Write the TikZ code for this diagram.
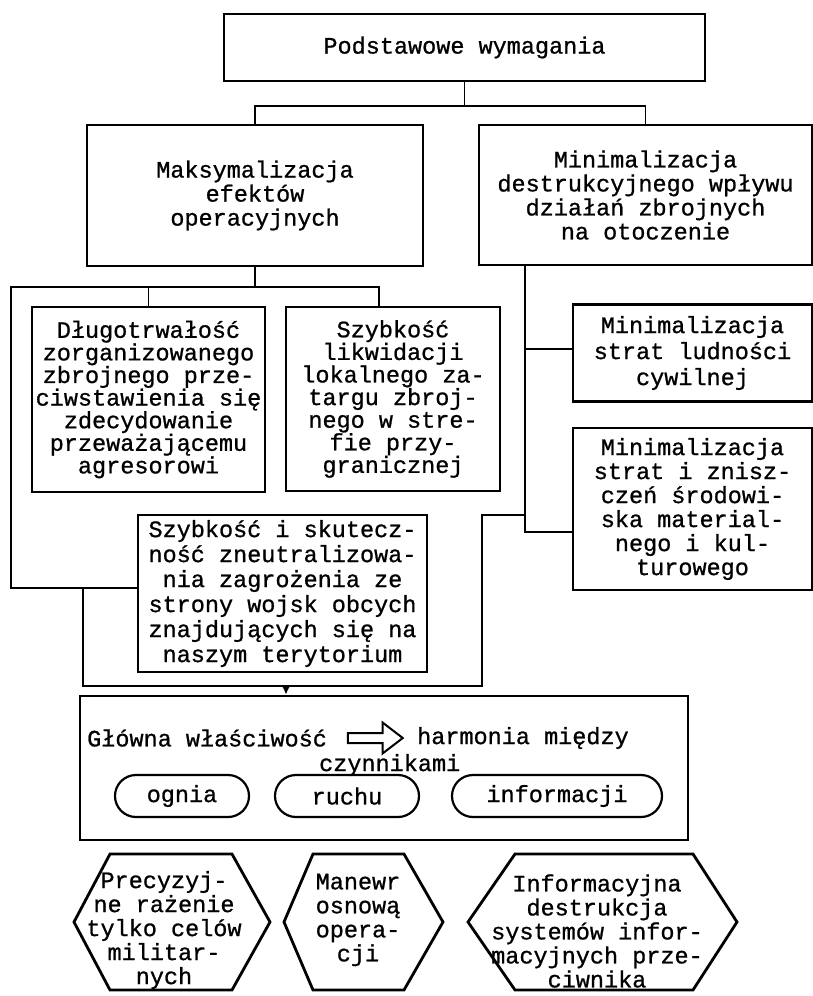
\documentclass[tikz,border=0pt]{standalone}
\usepackage{fontspec}
\setmainfont{Liberation Mono}[BoldFont=Liberation Mono, BoldFeatures={FakeBold=0.9}]
\usetikzlibrary{arrows.meta, shapes.misc, shapes.arrows}

\begin{document}
\begin{tikzpicture}[x=1pt, y=-1pt, font=\fontsize{23.5}{24}\selectfont\bfseries,
    box/.style={draw, line width=2.8pt, align=center, inner sep=0pt},
    pill/.style={draw, rounded rectangle, line width=2.2pt, inner sep=0pt},
    link/.style={line width=1.8pt},
    hexline/.style={line width=2.8pt, line join=miter}]
  \useasboundingbox (0,0) rectangle (813,996);
  \node[box, minimum width=481, minimum height=67] (pw) at (464.5,47.5) {Podstawowe wymagania};
  \node[box, minimum width=336, minimum height=141] (maks) at (255,195.5) {Maksymalizacja\\efektów\\operacyjnych};
  \node[box, minimum width=333, minimum height=140] (mini) at (645.5,195) {Minimalizacja\\destrukcyjnego wpływu\\działań zbrojnych\\na otoczenie};
  \node[box, minimum width=233, minimum height=185, font=\fontsize{23.5}{22.6}\selectfont\bfseries] (dlugo) at (148.5,399.5) {Długotrwałość\\zorganizowanego\\zbrojnego prze-\\ciwstawienia się\\zdecydowanie\\przeważającemu\\agresorowi};
  \node[box, minimum width=214, minimum height=184, font=\fontsize{23.5}{22.6}\selectfont\bfseries] (likw) at (393,399) {Szybkość\\likwidacji\\lokalnego za-\\targu zbroj-\\nego w stre-\\fie przy-\\granicznej};
  \node[box, minimum width=289, minimum height=157, font=\fontsize{23.5}{25}\selectfont\bfseries] (skut) at (282.5,593.5) {Szybkość i skutecz-\\ność zneutralizowa-\\nia zagrożenia ze\\strony wojsk obcych\\znajdujących się na\\naszym terytorium};
  \node[box, minimum width=239, minimum height=97, font=\fontsize{23.5}{26}\selectfont\bfseries] (ludn) at (692.5,353) {Minimalizacja\\strat ludności\\cywilnej};
  \node[box, minimum width=239, minimum height=162] (znisz) at (692.5,509) {Minimalizacja\\strat i znisz-\\czeń środowi-\\ska material-\\nego i kul-\\turowego};
  \node[box, minimum width=608, minimum height=144] (glowna) at (384,768) {};
  \node[anchor=west, inner sep=0pt] (wl) at (87,738) {Główna właściwość};
  \node[draw, single arrow, line width=2pt, inner xsep=0pt, inner ysep=4pt, minimum height=55,
    single arrow head extend=10.5pt, single arrow tip angle=75] (impl) at (372,738) {};
  \node[anchor=west, inner sep=0pt] (harm) at (417,738) {harmonia między};
  \node[anchor=west, inner sep=0pt] (czyn) at (319,765) {czynnikami};
  \node[pill, minimum width=134, minimum height=42] (ognia) at (182,796) {ognia};
  \node[pill, minimum width=144, minimum height=42] (ruchu) at (347,796) {ruchu};
  \node[pill, minimum width=210, minimum height=42] (info) at (557,796) {informacji};
  \draw[hexline] (110,854) -- (232,854) -- (270,922) -- (232,990) -- (110,990) -- (74,922) -- cycle;
  \draw[hexline] (313,854) -- (404,854) -- (443,922) -- (404,990) -- (313,990) -- (284,922) -- cycle;
  \draw[hexline] (515,854) -- (693,854) -- (737,922) -- (693,990) -- (515,990) -- (468,922) -- cycle;
  \node[align=center, inner sep=0pt] (prec) at (164,930) {Precyzyj-\\ne rażenie\\tylko celów\\militar-\\nych};
  \node[align=center, inner sep=0pt] (man) at (358,920) {Manewr\\osnową\\opera-\\cji};
  \node[align=center, inner sep=0pt] (infd) at (597,931) {Informacyjna\\destrukcja\\systemów infor-\\macyjnych prze-\\ciwnika};
  \coordinate (t1) at (464.5,106);
  \coordinate (t2) at (255,287);
  \coordinate (l1) at (11,588);
  \coordinate (r0) at (525,265);
  \coordinate (r1) at (525,349);
  \coordinate (r2) at (525,532);
  \coordinate (b0) at (83,588);
  \coordinate (b1) at (83,686);
  \coordinate (b2) at (482,686);
  \coordinate (b3) at (482,515);
  \coordinate (b4) at (286,686);
  \draw[link] (pw.south) -- (t1);
  \draw[link] (maks.north) |- (t1) -| (mini.north);
  \draw[link] (maks.south) -- (t2);
  \draw[link] (t2) -| (dlugo.north);
  \draw[link] (t2) -| ([xshift=-14pt]likw.north);
  \draw[link] (t2) -| (l1) -- (l1 -| skut.west);
  \draw[link] (r0) -- (r2) -- (r2 -| znisz.west);
  \draw[link] (r1) -- (r1 -| ludn.west);
  \draw[link] (b0) -- (b1) -- (b2) -- (b3) -- (b3 -| r0);
  \draw[link, -{Latex[length=9pt, width=9pt]}] (b4) -- (b4 |- glowna.north);
\end{tikzpicture}
\end{document}
